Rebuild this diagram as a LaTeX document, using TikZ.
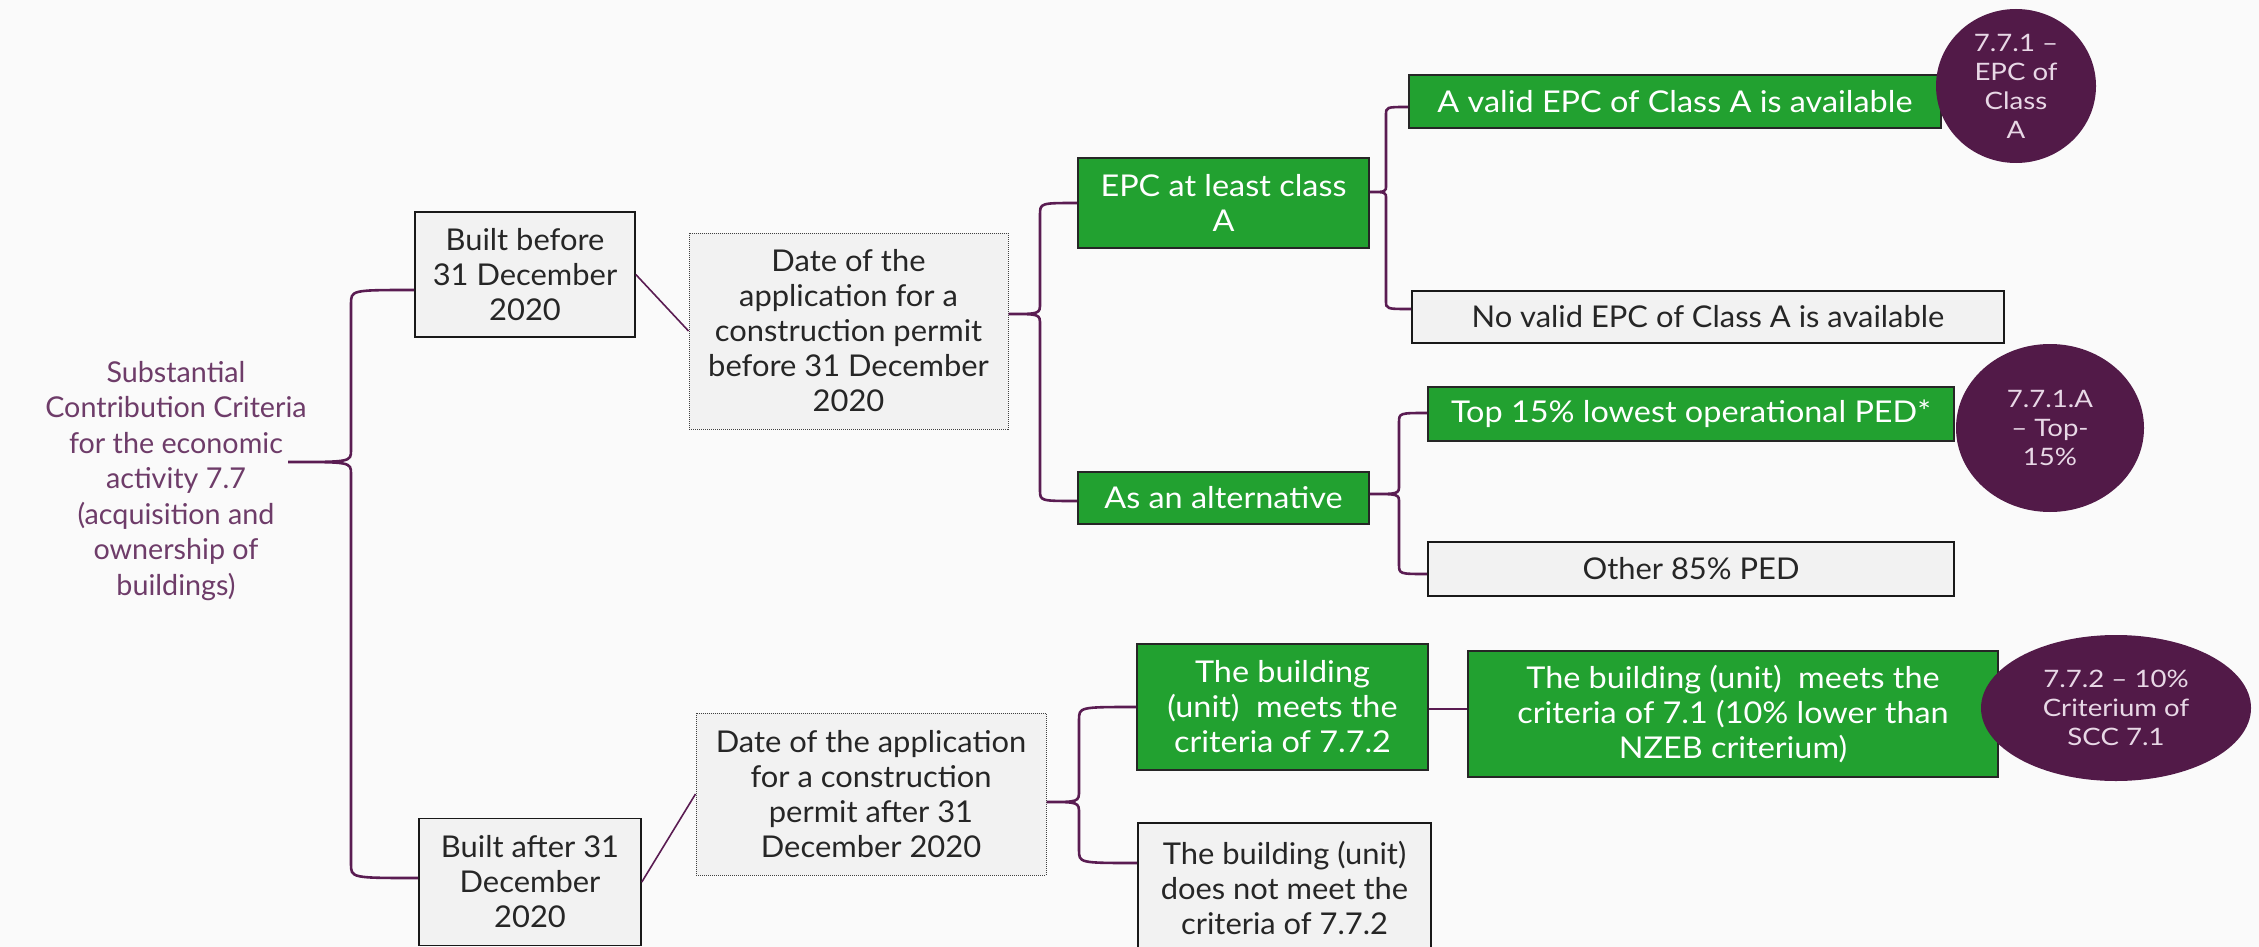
\documentclass[tikz,border=0pt]{standalone}
\usepackage{fontspec}
\setmainfont{Lato}
\newfontfamily\greenfont[FakeStretch=1.08]{Lato}
\newfontfamily\grayfont[FakeStretch=1.03]{Lato}
\newfontfamily\circfont[FakeStretch=1.15]{Lato}
\usetikzlibrary{shapes.geometric}
\definecolor{bgc}{HTML}{FAFAFA}
\definecolor{boxgray}{HTML}{F2F2F2}
\definecolor{grn}{HTML}{22A130}
\definecolor{purp}{HTML}{521A48}
\definecolor{bracec}{HTML}{5A1C52}
\definecolor{roottxt}{HTML}{6E3C69}
\definecolor{darktxt}{HTML}{262626}
\definecolor{circtxt}{HTML}{E8D8E6}
\tikzset{
 basebox/.style={rectangle, align=center, inner sep=0pt},
 graybox/.style={basebox, draw=black!90, line width=1.6pt, fill=boxgray, text=darktxt, font=\grayfont\fontsize{30}{35}\selectfont},
 greenbox/.style={basebox, draw=black!85, line width=1.6pt, fill=grn, text=white, font=\greenfont\fontsize{30}{35}\selectfont},
 dotbox/.style={basebox, draw=black!75, densely dotted, line width=1pt, fill=boxgray, text=darktxt, font=\grayfont\fontsize{30}{35}\selectfont},
 circ/.style={ellipse, fill=purp, inner sep=0pt},
 circtext/.style={align=center, text=circtxt, font=\circfont\fontsize{24}{29}\selectfont, inner sep=0pt},
 brace/.style={draw=bracec, line width=2.6pt},
 link/.style={draw=bracec, line width=1.6pt},
}
\begin{document}
\begin{tikzpicture}[x=1pt,y=-1pt]
\useasboundingbox (0,0) rectangle (2259,947);
\clip (0,0) rectangle (2259,947);
\fill[bgc] (0,0) rectangle (2259,947);

% root text
\node[font=\fontsize{28.7}{35.5}\selectfont, text=roottxt, align=center, inner sep=0pt] (root) at (176,481)
 {Substantial\\Contribution Criteria\\for the economic\\activity 7.7\\(acquisition and\\ownership of\\buildings)};
\coordinate (rt) at (288,462);

% level 1
\node[graybox, minimum width=220, minimum height=125] (bb) at (525,274.5) {Built before\\31 December\\2020};
\node[graybox, minimum width=222, minimum height=127] (ba) at (530,882) {Built after 31\\December\\2020};

% level 2
\node[dotbox, minimum width=319, minimum height=196] (d1) at (848.5,331)
 {Date of the\\application for a\\construction permit\\before 31 December\\2020};
\node[dotbox, minimum width=350, minimum height=162] (d2) at (871,794)
 {Date of the application\\for a construction\\permit after 31\\December 2020};

% level 3
\node[greenbox, minimum width=291, minimum height=90] (epc) at (1223.5,203) {EPC at least class\\A};
\node[greenbox, minimum width=291, minimum height=52] (alt) at (1223.5,498) {As an alternative};
\node[greenbox, minimum width=291, minimum height=126] (meets) at (1282.5,707) {The building\\(unit)\ \ meets the\\criteria of 7.7.2};
\node[graybox, minimum width=293, minimum height=130] (notmeet) at (1284.5,888) {The building (unit)\\does not meet the\\criteria of 7.7.2};

% level 4
\node[greenbox, minimum width=532, minimum height=53] (valid) at (1675,101.5) {A valid EPC of Class A is available};
\node[graybox, minimum width=592, minimum height=52] (novalid) at (1708,317) {No valid EPC of Class A is available};
\node[greenbox, minimum width=526, minimum height=54] (top15) at (1691,414) {Top 15\% lowest operational PED*};
\node[graybox, minimum width=526, minimum height=54] (other) at (1691,569) {Other 85\% PED};
\node[greenbox, minimum width=530, minimum height=126] (b71) at (1733,714) {The building (unit)\ \ meets the\\criteria of 7.1 (10\% lower than\\NZEB criterium)};

% circles
\node[circ, minimum width=160, minimum height=154] (c1) at (2016,86) {};
\node[circtext] at (c1.center) {7.7.1 –\\EPC of\\Class\\A};
\node[circ, minimum width=188, minimum height=168] (c2) at (2050,428) {};
\node[circtext] at (c2.center) {7.7.1.A\\– Top-\\15\%};
\node[circ, minimum width=270, minimum height=146] (c3) at (2116,708) {};
\node[circtext] at (c3.center) {7.7.2 – 10\%\\Criterium of\\SCC 7.1};

% braces
\draw[brace] (bb.west |- 0,290) .. controls (351,290) .. (351,304) -- (351,450)
  .. controls (351,462) .. (rt) .. controls (351,462) .. (351,474) -- (351,864)
  .. controls (351,878) .. (ba.west |- 0,878);
\draw[brace] (epc.west |- 0,203) .. controls (1040,203) .. (1040,215) -- (1040,303)
  .. controls (1040,314) .. (d1.east |- 0,314) .. controls (1040,314) .. (1040,325) -- (1040,490)
  .. controls (1040,501) .. (alt.west |- 0,501);
\draw[brace] (valid.west |- 0,107) .. controls (1386,107) .. (1386,115) -- (1386,185)
  .. controls (1386,192) .. (epc.east |- 0,192) .. controls (1386,192) .. (1386,199) -- (1386,301)
  .. controls (1386,309) .. (novalid.west |- 0,309);
\draw[brace] (top15.west |- 0,413) .. controls (1399,413) .. (1399,423) -- (1399,485)
  .. controls (1399,494) .. (alt.east |- 0,494) .. controls (1399,494) .. (1399,503) -- (1399,564)
  .. controls (1399,574) .. (other.west |- 0,574);
\draw[brace] (meets.west |- 0,707) .. controls (1079,707) .. (1079,720) -- (1079,790)
  .. controls (1079,802) .. (d2.east |- 0,802) .. controls (1079,802) .. (1079,814) -- (1079,850)
  .. controls (1079,863) .. (notmeet.west |- 0,863);

% links
\draw[link] (bb.east) -- (d1.west);
\draw[link] (ba.east) -- (d2.west);
\draw[link] (meets.east |- 0,709) -- (b71.west |- 0,709);
\end{tikzpicture}
\end{document}
